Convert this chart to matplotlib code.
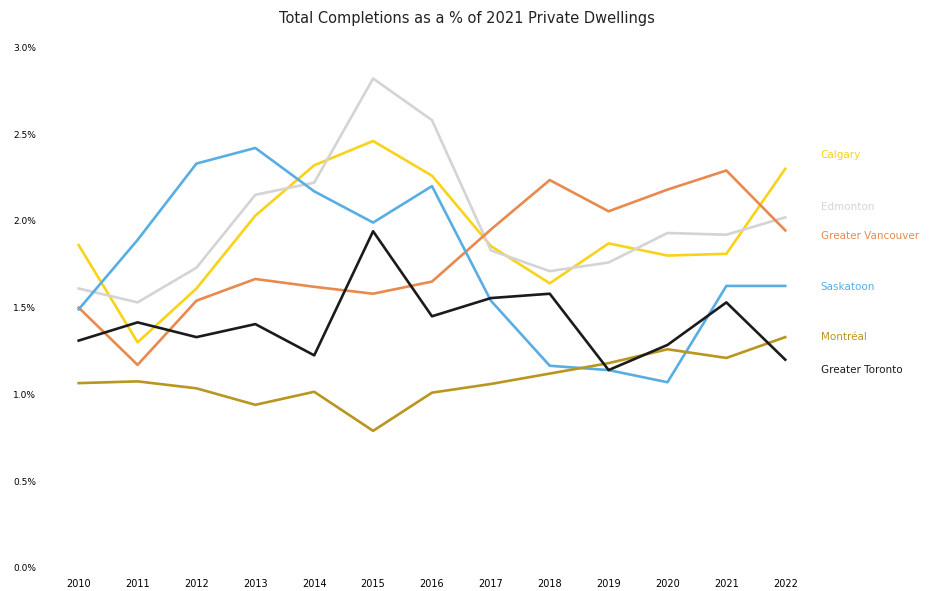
import matplotlib.pyplot as plt
from matplotlib.ticker import FuncFormatter

years = list(range(2010, 2023))
calgary = [1.86, 1.30, 1.61, 2.03, 2.32, 2.46, 2.26, 1.855, 1.64, 1.87, 1.80, 1.81, 2.30]
edmonton = [1.61, 1.53, 1.73, 2.15, 2.22, 2.82, 2.58, 1.83, 1.71, 1.76, 1.93, 1.92, 2.02]
vancouver = [1.50, 1.17, 1.54, 1.665, 1.62, 1.58, 1.65, 1.95, 2.235, 2.055, 2.18, 2.29, 1.945]
saskatoon = [1.49, 1.89, 2.33, 2.42, 2.17, 1.99, 2.20, 1.54, 1.165, 1.14, 1.07, 1.625, 1.625]
montreal = [1.065, 1.075, 1.035, 0.94, 1.015, 0.79, 1.01, 1.06, 1.12, 1.18, 1.26, 1.21, 1.33]
toronto = [1.31, 1.415, 1.33, 1.405, 1.225, 1.94, 1.45, 1.555, 1.58, 1.14, 1.285, 1.53, 1.20]

names = ['Calgary', 'Edmonton', 'Greater Vancouver', 'Saskatoon', 'Montréal', 'Greater Toronto']
series = [calgary, edmonton, vancouver, saskatoon, montreal, toronto]
colors = ['#F9D21A', '#D4D4D4', '#E8894E', '#58AEE3', '#B8961F', '#1B1B1B']
label_y = [2.38, 2.08, 1.91, 1.62, 1.33, 1.14]

fig = plt.figure(figsize=(9.34, 5.91), dpi=100)
ax = fig.add_axes([0.0685, 0.039, 0.788, 0.881])

x = list(range(len(years)))
for s, c, n, ly in zip(series, colors, names, label_y):
    ax.plot(x, s, color=c, lw=1.9)
    ax.text(12.6, ly, n, color=c, fontsize=7.5, va='center', ha='left', clip_on=False)

ax.set_xlim(-0.25, 12.25)
ax.set_ylim(0, 3.0)
ax.set_xticks(x)
ax.set_xticklabels([str(y) for y in years], fontsize=7)
ax.set_yticks([0, 0.5, 1.0, 1.5, 2.0, 2.5, 3.0])
ax.yaxis.set_major_formatter(FuncFormatter(lambda v, p: f'{v:.1f}%'))
ax.tick_params(axis='y', labelsize=6.5, length=0, pad=20)
ax.tick_params(axis='x', length=0, pad=8)
for sp in ax.spines.values():
    sp.set_visible(False)

fig.text(0.5, 0.968, 'Total Completions as a % of 2021 Private Dwellings',
         ha='center', va='center', fontsize=10.5, color='#222222')

fig.savefig('out.png', dpi=100)
